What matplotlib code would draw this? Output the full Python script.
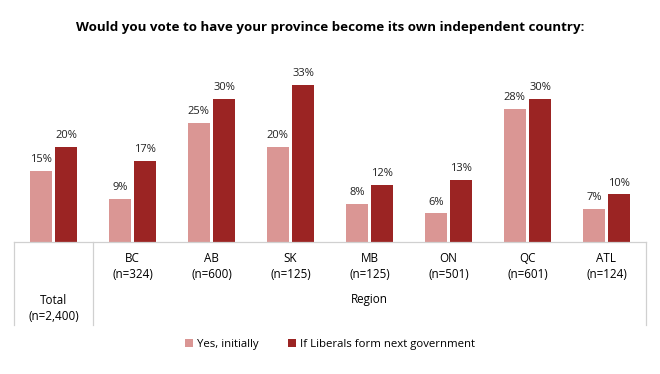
import matplotlib.pyplot as plt
import numpy as np

plt.rcParams['font.family'] = ['Open Sans', 'DejaVu Sans']

categories = ["Total", "BC", "AB", "SK", "MB", "ON", "QC", "ATL"]
samples = ["(n=2,400)", "(n=324)", "(n=600)", "(n=125)", "(n=125)", "(n=501)", "(n=601)", "(n=124)"]
yes_initially = [15, 9, 25, 20, 8, 6, 28, 7]
if_liberals = [20, 17, 30, 33, 12, 13, 30, 10]

light = '#DA9694'
dark = '#9B2423'

fig = plt.figure(figsize=(6.6, 3.74), dpi=100)
ax = fig.add_axes([14/660, 132/374, 632/660, 182/374])

x = np.arange(len(categories)) + 0.5
w = 0.28
b1 = ax.bar(x - w/2 - 0.02, yes_initially, w, color=light, label='Yes, initially')
b2 = ax.bar(x + w/2 + 0.02, if_liberals, w, color=dark, label='If Liberals form next government')

for rects, vals in ((b1, yes_initially), (b2, if_liberals)):
    for r, v in zip(rects, vals):
        ax.text(r.get_x() + r.get_width()/2, v + 1.2, f"{v}%", ha='center', va='bottom',
                fontsize=8, color='#222222')

ax.set_xlim(0, 8)
ax.set_ylim(0, 38.2)
ax.axis('off')

# table lines below the bars
tr = ax.transAxes
yb = -83/182
gray = '#D0D0D0'
ax.plot([0, 1], [0, 0], transform=tr, color=gray, lw=0.9, clip_on=False)
for xv in (0, 1/8, 1):
    ax.plot([xv, xv], [0, yb], transform=tr, color=gray, lw=0.9, clip_on=False)

k = 38.2 / 182
fs = 8.4
for i in range(len(categories)):
    if i == 0:
        ax.text(x[i], -58 * k, categories[i], ha='center', va='center', fontsize=fs)
        ax.text(x[i], -74 * k, samples[i], ha='center', va='center', fontsize=fs)
    else:
        ax.text(x[i], -17 * k, categories[i], ha='center', va='center', fontsize=fs)
        ax.text(x[i], -32 * k, samples[i], ha='center', va='center', fontsize=fs)
ax.text((x[1] + x[-1]) / 2, -58 * k, "Region", ha='center', va='center', fontsize=fs)

fig.text(0.5, 1 - 27/374, "Would you vote to have your province become its own independent country:",
         ha='center', va='center', fontsize=9.6, fontweight='bold')

fig.legend(loc='center', bbox_to_anchor=(0.5, 1 - 344/374), ncol=2, frameon=False,
           fontsize=8.2, handlelength=0.7, handleheight=0.7, columnspacing=2.5, handletextpad=0.4)

fig.savefig('out.png', dpi=100)
